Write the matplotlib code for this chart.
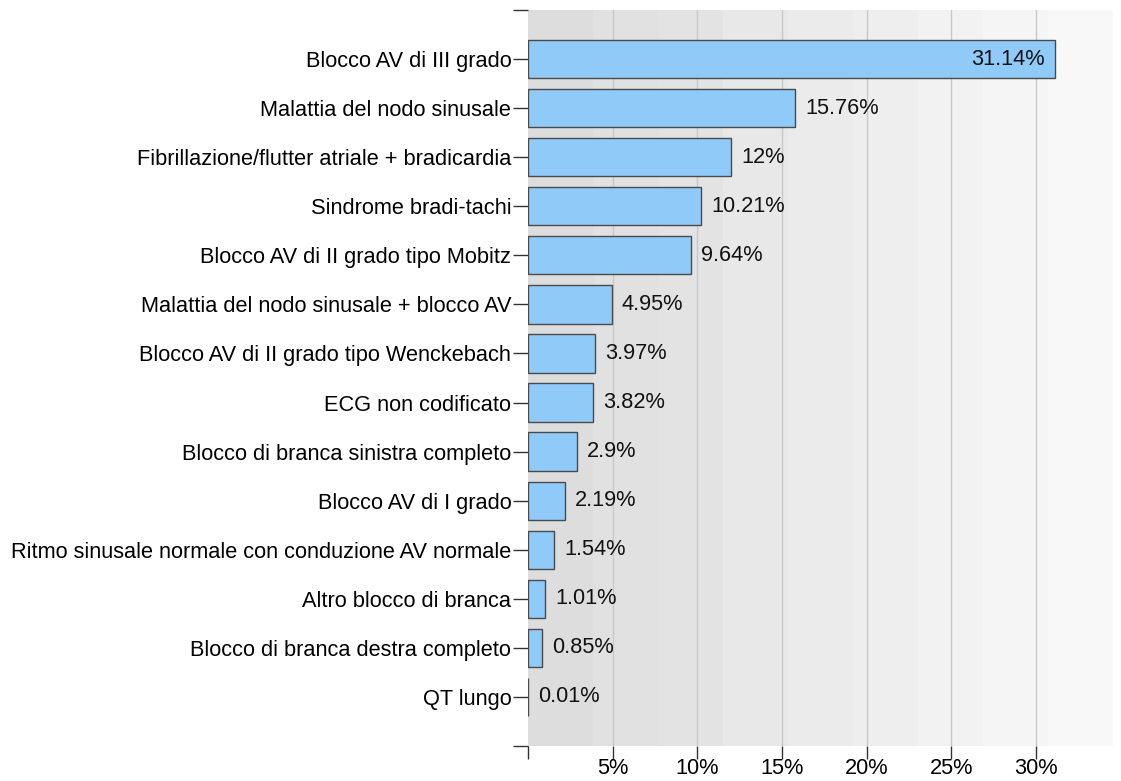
import numpy as np
import matplotlib
matplotlib.use('Agg')
import matplotlib.pyplot as plt
from matplotlib.ticker import FuncFormatter

categories = [
    'Blocco AV di III grado',
    'Malattia del nodo sinusale',
    'Fibrillazione/flutter atriale + bradicardia',
    'Sindrome bradi-tachi',
    'Blocco AV di II grado tipo Mobitz',
    'Malattia del nodo sinusale + blocco AV',
    'Blocco AV di II grado tipo Wenckebach',
    'ECG non codificato',
    'Blocco di branca sinistra completo',
    'Blocco AV di I grado',
    'Ritmo sinusale normale con conduzione AV normale',
    'Altro blocco di branca',
    'Blocco di branca destra completo',
    'QT lungo',
]
values = [31.14, 15.76, 12, 10.21, 9.64, 4.95, 3.97, 3.82, 2.9, 2.19, 1.54, 1.01, 0.85, 0.01]
value_labels = ['31.14%', '15.76%', '12%', '10.21%', '9.64%', '4.95%', '3.97%', '3.82%',
                '2.9%', '2.19%', '1.54%', '1.01%', '0.85%', '0.01%']
x_ticks = [5, 10, 15, 20, 25, 30]

plt.rcParams['font.family'] = ['Liberation Sans', 'DejaVu Sans']
fs = 15.65

fig = plt.figure(figsize=(11.21, 7.81), dpi=100)
ax = fig.add_axes([528 / 1121, 1 - 746 / 781, (1113 - 528) / 1121, (746 - 10) / 781])

xmax = 34.55
ax.set_xlim(0, xmax)
ax.set_ylim(len(categories), -1)

# stepped grey gradient background
steps = np.linspace(221, 248, 9) / 255
grad = np.repeat(steps, 8)[None, :]
ax.imshow(grad, cmap='gray', vmin=0, vmax=1, aspect='auto',
          extent=[0, xmax, len(categories), -1], zorder=0, interpolation='nearest')

for t in x_ticks:
    ax.axvline(t, color='#c8c8c8', linewidth=1, zorder=1)

y = np.arange(len(categories))
ax.barh(y, values, height=0.78, color='#90caf9', edgecolor='#4a4a4a', linewidth=1, zorder=2)

for i, (v, lab) in enumerate(zip(values, value_labels)):
    if v > 25:
        ax.text(v - 0.6, i, lab, va='center', ha='right', fontsize=fs, color='#111111', zorder=3)
    else:
        ax.text(v + 0.6, i, lab, va='center', ha='left', fontsize=fs, color='#111111', zorder=3)

ax.set_yticks(y)
ax.set_yticklabels(categories, fontsize=fs, color='#000000')
ax.set_yticks([-1, len(categories)], minor=True)
ax.tick_params(axis='y', which='both', length=11, width=1, color='#333333', pad=1)

ax.set_xticks([0] + x_ticks)
ax.xaxis.set_major_formatter(FuncFormatter(lambda v, p: '' if v == 0 else '%d%%' % v))
ax.tick_params(axis='x', length=9, width=1, color='#333333', labelsize=fs, pad=0)

for s in ax.spines.values():
    s.set_visible(False)

fig.savefig('out.png', dpi=100)
